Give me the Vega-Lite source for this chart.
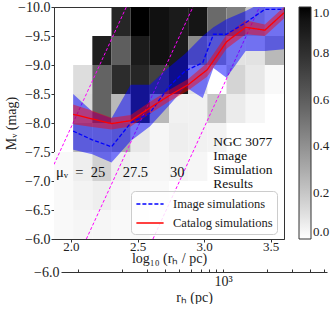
{
  "$schema": "https://vega.github.io/schema/vega-lite/v6.json",
  "autosize": {"type": "pad"},
  "padding": {"left": 3, "top": -1, "right": 0, "bottom": 0},
  "background": "white",
  "config": {
    "font": "Liberation Serif",
    "view": {"stroke": "#333333", "strokeWidth": 1},
    "axis": {
      "labelFont": "Liberation Serif", "labelFontSize": 14, "labelColor": "#222222", "labelOverlap": false,
      "titleFont": "Liberation Serif", "titleFontSize": 14, "titleFontWeight": "normal", "titleColor": "#222222",
      "tickColor": "#333333", "domainColor": "#333333", "grid": false, "tickSize": 3, "labelPadding": 1
    },
    "legend": {"labelFont": "Liberation Serif", "labelColor": "#222222", "labelOverlap": false}
  },
  "datasets": {
    "cells": [
      {"x0": 2.3048, "x1": 2.4487, "y0": -10, "y1": -9.5, "f": 0.85},
      {"x0": 2.4487, "x1": 2.5926, "y0": -10, "y1": -9.5, "f": 1.0},
      {"x0": 2.5926, "x1": 2.7365, "y0": -10, "y1": -9.5, "f": 0.95},
      {"x0": 2.7365, "x1": 2.8804, "y0": -10, "y1": -9.5, "f": 0.9},
      {"x0": 2.8804, "x1": 3.0244, "y0": -10, "y1": -9.5, "f": 0.93},
      {"x0": 3.0244, "x1": 3.1683, "y0": -10, "y1": -9.5, "f": 0.55},
      {"x0": 3.1683, "x1": 3.3122, "y0": -10, "y1": -9.5, "f": 0.47},
      {"x0": 3.3122, "x1": 3.4561, "y0": -10, "y1": -9.5, "f": 0.2},
      {"x0": 3.4561, "x1": 3.6, "y0": -10, "y1": -9.5, "f": 0.1},
      {"x0": 2.1608, "x1": 2.3048, "y0": -9.5, "y1": -9, "f": 0.88},
      {"x0": 2.3048, "x1": 2.4487, "y0": -9.5, "y1": -9, "f": 0.6},
      {"x0": 2.4487, "x1": 2.5926, "y0": -9.5, "y1": -9, "f": 0.9},
      {"x0": 2.5926, "x1": 2.7365, "y0": -9.5, "y1": -9, "f": 0.95},
      {"x0": 2.7365, "x1": 2.8804, "y0": -9.5, "y1": -9, "f": 0.9},
      {"x0": 2.8804, "x1": 3.0244, "y0": -9.5, "y1": -9, "f": 0.42},
      {"x0": 3.0244, "x1": 3.1683, "y0": -9.5, "y1": -9, "f": 0.3},
      {"x0": 3.1683, "x1": 3.3122, "y0": -9.5, "y1": -9, "f": 0.1},
      {"x0": 3.3122, "x1": 3.4561, "y0": -9.5, "y1": -9, "f": 0.1},
      {"x0": 3.4561, "x1": 3.6, "y0": -9.5, "y1": -9, "f": 0.25},
      {"x0": 2.0169, "x1": 2.1608, "y0": -9, "y1": -8.5, "f": 0.12},
      {"x0": 2.1608, "x1": 2.3048, "y0": -9, "y1": -8.5, "f": 0.58},
      {"x0": 2.3048, "x1": 2.4487, "y0": -9, "y1": -8.5, "f": 0.82},
      {"x0": 2.4487, "x1": 2.5926, "y0": -9, "y1": -8.5, "f": 0.85},
      {"x0": 2.5926, "x1": 2.7365, "y0": -9, "y1": -8.5, "f": 0.72},
      {"x0": 2.7365, "x1": 2.8804, "y0": -9, "y1": -8.5, "f": 0.9},
      {"x0": 2.8804, "x1": 3.0244, "y0": -9, "y1": -8.5, "f": 0.1},
      {"x0": 3.1683, "x1": 3.3122, "y0": -9, "y1": -8.5, "f": 0.15},
      {"x0": 3.3122, "x1": 3.4561, "y0": -9, "y1": -8.5, "f": 0.08},
      {"x0": 3.4561, "x1": 3.6, "y0": -9, "y1": -8.5, "f": 0.02},
      {"x0": 2.0169, "x1": 2.1608, "y0": -8.5, "y1": -8, "f": 0.13},
      {"x0": 2.1608, "x1": 2.3048, "y0": -8.5, "y1": -8, "f": 0.58},
      {"x0": 2.3048, "x1": 2.4487, "y0": -8.5, "y1": -8, "f": 0.25},
      {"x0": 2.4487, "x1": 2.5926, "y0": -8.5, "y1": -8, "f": 0.85},
      {"x0": 2.5926, "x1": 2.7365, "y0": -8.5, "y1": -8, "f": 0.25},
      {"x0": 2.7365, "x1": 2.8804, "y0": -8.5, "y1": -8, "f": 0.05},
      {"x0": 2.8804, "x1": 3.0244, "y0": -8.5, "y1": -8, "f": 0.05},
      {"x0": 3.0244, "x1": 3.1683, "y0": -8.5, "y1": -8, "f": 0.2},
      {"x0": 3.1683, "x1": 3.3122, "y0": -8.5, "y1": -8, "f": 0.07},
      {"x0": 3.3122, "x1": 3.4561, "y0": -8.5, "y1": -8, "f": 0.03},
      {"x0": 2.0169, "x1": 2.1608, "y0": -8, "y1": -7.5, "f": 0.25},
      {"x0": 2.1608, "x1": 2.3048, "y0": -8, "y1": -7.5, "f": 0.25},
      {"x0": 2.3048, "x1": 2.4487, "y0": -8, "y1": -7.5, "f": 0.3},
      {"x0": 2.4487, "x1": 2.5926, "y0": -8, "y1": -7.5, "f": 0.08},
      {"x0": 2.5926, "x1": 2.7365, "y0": -8, "y1": -7.5, "f": 0.03},
      {"x0": 2.7365, "x1": 2.8804, "y0": -8, "y1": -7.5, "f": 0.06},
      {"x0": 2.8804, "x1": 3.0244, "y0": -8, "y1": -7.5, "f": 0.05},
      {"x0": 3.0244, "x1": 3.1683, "y0": -8, "y1": -7.5, "f": 0.04},
      {"x0": 1.873, "x1": 2.0169, "y0": -7.5, "y1": -7, "f": 0.02},
      {"x0": 2.0169, "x1": 2.1608, "y0": -7.5, "y1": -7, "f": 0.06},
      {"x0": 2.1608, "x1": 2.3048, "y0": -7.5, "y1": -7, "f": 0.16},
      {"x0": 2.3048, "x1": 2.4487, "y0": -7.5, "y1": -7, "f": 0.06},
      {"x0": 2.4487, "x1": 2.5926, "y0": -7.5, "y1": -7, "f": 0.04},
      {"x0": 2.5926, "x1": 2.7365, "y0": -7.5, "y1": -7, "f": 0.03},
      {"x0": 2.7365, "x1": 2.8804, "y0": -7.5, "y1": -7, "f": 0.04},
      {"x0": 2.8804, "x1": 3.0244, "y0": -7.5, "y1": -7, "f": 0.03},
      {"x0": 1.873, "x1": 2.0169, "y0": -7, "y1": -6.5, "f": 0.02},
      {"x0": 2.0169, "x1": 2.1608, "y0": -7, "y1": -6.5, "f": 0.04},
      {"x0": 2.1608, "x1": 2.3048, "y0": -7, "y1": -6.5, "f": 0.06},
      {"x0": 2.3048, "x1": 2.4487, "y0": -7, "y1": -6.5, "f": 0.03},
      {"x0": 2.4487, "x1": 2.5926, "y0": -7, "y1": -6.5, "f": 0.02},
      {"x0": 2.5926, "x1": 2.7365, "y0": -7, "y1": -6.5, "f": 0.02},
      {"x0": 1.873, "x1": 2.0169, "y0": -6.5, "y1": -6, "f": 0.02},
      {"x0": 2.0169, "x1": 2.1608, "y0": -6.5, "y1": -6, "f": 0.03},
      {"x0": 2.1608, "x1": 2.3048, "y0": -6.5, "y1": -6, "f": 0.03},
      {"x0": 2.3048, "x1": 2.4487, "y0": -6.5, "y1": -6, "f": 0.02},
      {"x0": 2.4487, "x1": 2.5926, "y0": -6.5, "y1": -6, "f": 0.02}
    ],
    "curves": [
      {"series": "Image simulations", "x": 2.0169, "mid": -7.86, "lo": -7.54, "hi": -8.5},
      {"series": "Image simulations", "x": 2.1608, "mid": -7.71, "lo": -7.46, "hi": -8.2},
      {"series": "Image simulations", "x": 2.3048, "mid": -7.59, "lo": -7.32, "hi": -8.08},
      {"series": "Image simulations", "x": 2.4487, "mid": -8.0, "lo": -7.69, "hi": -8.66},
      {"series": "Image simulations", "x": 2.5926, "mid": -8.17, "lo": -7.94, "hi": -8.66},
      {"series": "Image simulations", "x": 2.7365, "mid": -8.63, "lo": -8.3, "hi": -8.96},
      {"series": "Image simulations", "x": 2.86, "mid": -8.9, "lo": -8.62, "hi": -9.2},
      {"series": "Image simulations", "x": 2.99, "mid": -9.04, "lo": -8.43, "hi": -9.5},
      {"series": "Image simulations", "x": 3.07, "mid": -9.53, "lo": -8.95, "hi": -9.65},
      {"series": "Image simulations", "x": 3.1683, "mid": -9.53, "lo": -8.78, "hi": -9.79},
      {"series": "Image simulations", "x": 3.3122, "mid": -9.73, "lo": -9.24, "hi": -9.93},
      {"series": "Image simulations", "x": 3.4561, "mid": -9.96, "lo": -9.24, "hi": -10.1},
      {"series": "Image simulations", "x": 3.6, "mid": -9.96, "lo": -9.27, "hi": -10.1},
      {"series": "Catalog simulations", "x": 2.0169, "mid": -8.15, "lo": -7.98, "hi": -8.32},
      {"series": "Catalog simulations", "x": 2.1608, "mid": -8.07, "lo": -7.93, "hi": -8.21},
      {"series": "Catalog simulations", "x": 2.3048, "mid": -7.99, "lo": -7.89, "hi": -8.09},
      {"series": "Catalog simulations", "x": 2.4487, "mid": -8.04, "lo": -7.94, "hi": -8.14},
      {"series": "Catalog simulations", "x": 2.5926, "mid": -8.26, "lo": -8.16, "hi": -8.36},
      {"series": "Catalog simulations", "x": 2.7365, "mid": -8.47, "lo": -8.37, "hi": -8.57},
      {"series": "Catalog simulations", "x": 2.8804, "mid": -8.66, "lo": -8.56, "hi": -8.76},
      {"series": "Catalog simulations", "x": 3.0244, "mid": -8.92, "lo": -8.8, "hi": -9.04},
      {"series": "Catalog simulations", "x": 3.1683, "mid": -9.4, "lo": -9.28, "hi": -9.52},
      {"series": "Catalog simulations", "x": 3.3122, "mid": -9.65, "lo": -9.53, "hi": -9.77},
      {"series": "Catalog simulations", "x": 3.4561, "mid": -9.6, "lo": -9.5, "hi": -9.7},
      {"series": "Catalog simulations", "x": 3.6, "mid": -9.9, "lo": -9.8, "hi": -10.0}
    ],
    "sb": [
      {"mu": "25", "x": 1.873, "y": -7.285},
      {"mu": "25", "x": 2.416, "y": -10},
      {"mu": "27.5", "x": 2.116, "y": -6},
      {"mu": "27.5", "x": 2.916, "y": -10},
      {"mu": "30", "x": 2.616, "y": -6},
      {"mu": "30", "x": 3.416, "y": -10}
    ],
    "notes": [
      {"t": "μᵥ\u2002=\u200225", "x": 1.888, "y": -7.13},
      {"t": "27.5", "x": 2.389, "y": -7.13},
      {"t": "30", "x": 2.744, "y": -7.13}
    ],
    "heading": [
      {"t": ["NGC 3077", "Image", "Simulation", "Results"], "x": 3.069, "y": -7.8}
    ],
    "rh": [{"rh": 100}, {"rh": 1000}]
  },
  "vconcat": [
    {
      "width": 230,
      "height": 232,
      "layer": [
        {
          "data": {"name": "cells"},
          "mark": {"type": "rect"},
          "encoding": {
            "x": {"field": "x0", "type": "quantitative", "title": "log₁₀ (rₕ / pc)",
                  "scale": {"domain": [1.873, 3.6], "nice": false, "zero": false},
                  "axis": {"values": [2, 2.5, 3, 3.5], "format": ".1f", "labelFontSize": 13, "labelPadding": -2, "titleY": 19, "titleBaseline": "middle", "labelOverlap": false}},
            "x2": {"field": "x1"},
            "y": {"field": "y0", "type": "quantitative", "title": "Mᵥ (mag)",
                  "scale": {"domain": [-10, -6], "reverse": true, "nice": false, "zero": false},
                  "axis": {"values": [-10, -9.5, -9, -8.5, -8, -7.5, -7, -6.5, -6], "tickCount": 9, "format": ".1f", "labelOverlap": false, "titleX": -43, "titleY": 116, "titleAngle": -90, "titleBaseline": "middle", "titleAlign": "center"}},
            "y2": {"field": "y1"},
            "fill": {"field": "f", "type": "quantitative",
                     "scale": {"domain": [0, 1], "range": ["#ffffff", "#000000"]},
                     "legend": {"orient": "right", "offset": 15, "title": null, "direction": "vertical",
                                "gradientLength": 232, "gradientThickness": 12, "values": [0, 0.2, 0.4, 0.6, 0.8, 1.0],
                                "format": ".1f", "labelFontSize": 13, "gradientStrokeColor": "#333333", "gradientStrokeWidth": 1,
                                "padding": 0, "labelOffset": 2, "labelBaseline": "middle"}}
          }
        },
        {
          "data": {"name": "sb"},
          "mark": {"type": "line", "clip": true, "color": "#ff00ff", "strokeDash": [3, 2], "strokeWidth": 1},
          "encoding": {
            "x": {"field": "x", "type": "quantitative", "title": "log₁₀ (rₕ / pc)", "scale": {"domain": [1.873, 3.6], "nice": false, "zero": false},
                  "axis": {"values": [2, 2.5, 3, 3.5], "format": ".1f", "labelFontSize": 13, "labelPadding": -2, "titleY": 19, "titleBaseline": "middle", "labelOverlap": false}},
            "y": {"field": "y", "type": "quantitative", "title": "Mᵥ (mag)", "scale": {"domain": [-10, -6], "reverse": true, "nice": false, "zero": false},
                  "axis": {"values": [-10, -9.5, -9, -8.5, -8, -7.5, -7, -6.5, -6], "tickCount": 9, "format": ".1f", "labelOverlap": false, "titleX": -43, "titleY": 116, "titleAngle": -90, "titleBaseline": "middle", "titleAlign": "center"}},
            "detail": {"field": "mu", "type": "nominal"}
          }
        },
        {
          "data": {"name": "curves"},
          "transform": [{"filter": "datum.series == 'Image simulations'"}],
          "mark": {"type": "area", "clip": true, "color": "#0000ff", "opacity": 0.5},
          "encoding": {
            "x": {"field": "x", "type": "quantitative", "title": "log₁₀ (rₕ / pc)", "scale": {"domain": [1.873, 3.6], "nice": false, "zero": false},
                  "axis": {"values": [2, 2.5, 3, 3.5], "format": ".1f", "labelFontSize": 13, "labelPadding": -2, "titleY": 19, "titleBaseline": "middle", "labelOverlap": false}},
            "y": {"field": "lo", "type": "quantitative", "title": "Mᵥ (mag)", "scale": {"domain": [-10, -6], "reverse": true, "nice": false, "zero": false},
                  "axis": {"values": [-10, -9.5, -9, -8.5, -8, -7.5, -7, -6.5, -6], "tickCount": 9, "format": ".1f", "labelOverlap": false, "titleX": -43, "titleY": 116, "titleAngle": -90, "titleBaseline": "middle", "titleAlign": "center"}},
            "y2": {"field": "hi"}
          }
        },
        {
          "data": {"name": "curves"},
          "transform": [{"filter": "datum.series == 'Catalog simulations'"}],
          "mark": {"type": "area", "clip": true, "color": "#ff0000", "opacity": 0.45},
          "encoding": {
            "x": {"field": "x", "type": "quantitative", "title": "log₁₀ (rₕ / pc)", "scale": {"domain": [1.873, 3.6], "nice": false, "zero": false},
                  "axis": {"values": [2, 2.5, 3, 3.5], "format": ".1f", "labelFontSize": 13, "labelPadding": -2, "titleY": 19, "titleBaseline": "middle", "labelOverlap": false}},
            "y": {"field": "lo", "type": "quantitative", "title": "Mᵥ (mag)", "scale": {"domain": [-10, -6], "reverse": true, "nice": false, "zero": false},
                  "axis": {"values": [-10, -9.5, -9, -8.5, -8, -7.5, -7, -6.5, -6], "tickCount": 9, "format": ".1f", "labelOverlap": false, "titleX": -43, "titleY": 116, "titleAngle": -90, "titleBaseline": "middle", "titleAlign": "center"}},
            "y2": {"field": "hi"}
          }
        },
        {
          "data": {"name": "curves"},
          "mark": {"type": "line", "clip": true, "strokeWidth": 1.3},
          "encoding": {
            "x": {"field": "x", "type": "quantitative", "title": "log₁₀ (rₕ / pc)", "scale": {"domain": [1.873, 3.6], "nice": false, "zero": false},
                  "axis": {"values": [2, 2.5, 3, 3.5], "format": ".1f", "labelFontSize": 13, "labelPadding": -2, "titleY": 19, "titleBaseline": "middle", "labelOverlap": false}},
            "y": {"field": "mid", "type": "quantitative", "title": "Mᵥ (mag)", "scale": {"domain": [-10, -6], "reverse": true, "nice": false, "zero": false},
                  "axis": {"values": [-10, -9.5, -9, -8.5, -8, -7.5, -7, -6.5, -6], "tickCount": 9, "format": ".1f", "labelOverlap": false, "titleX": -43, "titleY": 116, "titleAngle": -90, "titleBaseline": "middle", "titleAlign": "center"}},
            "order": {"field": "x", "type": "quantitative"},
            "stroke": {"field": "series", "type": "nominal",
                       "scale": {"domain": ["Image simulations", "Catalog simulations"], "range": ["#0000ff", "#ff0000"]},
                       "legend": {"orient": "none", "legendX": 77, "legendY": 184, "title": null,
                                  "fillColor": "rgba(255,255,255,0.85)", "strokeColor": "#cccccc", "cornerRadius": 4, "padding": 4,
                                  "symbolType": "M-1.7,0H1.7", "symbolSize": 256, "symbolStrokeWidth": 1.3,
                                  "labelFontSize": 12.5, "rowPadding": 3, "labelOffset": 14, "symbolOffset": 6}},
            "strokeDash": {"field": "series", "type": "nominal",
                           "scale": {"domain": ["Image simulations", "Catalog simulations"], "range": [[4, 2], [1, 0]]},
                           "legend": {"orient": "none", "legendX": 77, "legendY": 184, "title": null,
                                      "fillColor": "rgba(255,255,255,0.85)", "strokeColor": "#cccccc", "cornerRadius": 4, "padding": 4,
                                      "symbolType": "M-1.7,0H1.7", "symbolSize": 256, "symbolStrokeWidth": 1.3,
                                      "labelFontSize": 12.5, "rowPadding": 3, "labelOffset": 14, "symbolOffset": 6}}
          }
        },
        {
          "data": {"name": "notes"},
          "mark": {"type": "text", "align": "left", "baseline": "middle", "fontSize": 14.5, "color": "#111111"},
          "encoding": {
            "x": {"field": "x", "type": "quantitative", "title": "log₁₀ (rₕ / pc)", "scale": {"domain": [1.873, 3.6], "nice": false, "zero": false},
                  "axis": {"values": [2, 2.5, 3, 3.5], "format": ".1f", "labelFontSize": 13, "labelPadding": -2, "titleY": 19, "titleBaseline": "middle", "labelOverlap": false}},
            "y": {"field": "y", "type": "quantitative", "title": "Mᵥ (mag)", "scale": {"domain": [-10, -6], "reverse": true, "nice": false, "zero": false},
                  "axis": {"values": [-10, -9.5, -9, -8.5, -8, -7.5, -7, -6.5, -6], "tickCount": 9, "format": ".1f", "labelOverlap": false, "titleX": -43, "titleY": 116, "titleAngle": -90, "titleBaseline": "middle", "titleAlign": "center"}},
            "text": {"field": "t", "type": "nominal"}
          }
        },
        {
          "data": {"name": "heading"},
          "mark": {"type": "text", "align": "left", "baseline": "top", "fontSize": 13.5, "lineHeight": 14, "color": "#111111"},
          "encoding": {
            "x": {"field": "x", "type": "quantitative", "title": "log₁₀ (rₕ / pc)", "scale": {"domain": [1.873, 3.6], "nice": false, "zero": false},
                  "axis": {"values": [2, 2.5, 3, 3.5], "format": ".1f", "labelFontSize": 13, "labelPadding": -2, "titleY": 19, "titleBaseline": "middle", "labelOverlap": false}},
            "y": {"field": "y", "type": "quantitative", "title": "Mᵥ (mag)", "scale": {"domain": [-10, -6], "reverse": true, "nice": false, "zero": false},
                  "axis": {"values": [-10, -9.5, -9, -8.5, -8, -7.5, -7, -6.5, -6], "tickCount": 9, "format": ".1f", "labelOverlap": false, "titleX": -43, "titleY": 116, "titleAngle": -90, "titleBaseline": "middle", "titleAlign": "center"}},
            "text": {"field": "t", "type": "nominal"}
          }
        }
      ]
    },
    {
      "width": 273,
      "height": 1,
      "view": {"stroke": null},
      "data": {"name": "rh"},
      "mark": {"type": "point", "opacity": 0},
      "encoding": {
        "x": {"field": "rh", "type": "quantitative", "title": "rₕ (pc)",
              "scale": {"type": "log", "domain": [76.3, 5212], "range": [7, 273], "nice": false},
              "axis": {"orient": "bottom", "values": [100, 200, 300, 400, 500, 600, 700, 800, 900, 1000, 2000, 3000, 4000, 5000],
                       "labelExpr": "datum.value == 1000 ? '10³' : ''", "tickSize": -3, "labelPadding": 5, "titlePadding": 2, "labelFontSize": 14}},
        "y": {"datum": -6, "type": "quantitative",
              "scale": {"domain": [-6, -5.9], "nice": false, "zero": false},
              "axis": {"values": [-6], "format": ".1f", "domain": false, "ticks": false, "title": null, "labelPadding": -5}}
      }
    }
  ],
  "spacing": 32,
  "bounds": "flush",
  "resolve": {
    "scale": {"x": "independent", "y": "independent"},
    "axis": {"x": "independent", "y": "independent"},
    "legend": {"fill": "independent", "stroke": "independent", "strokeDash": "independent"}
  }
}
